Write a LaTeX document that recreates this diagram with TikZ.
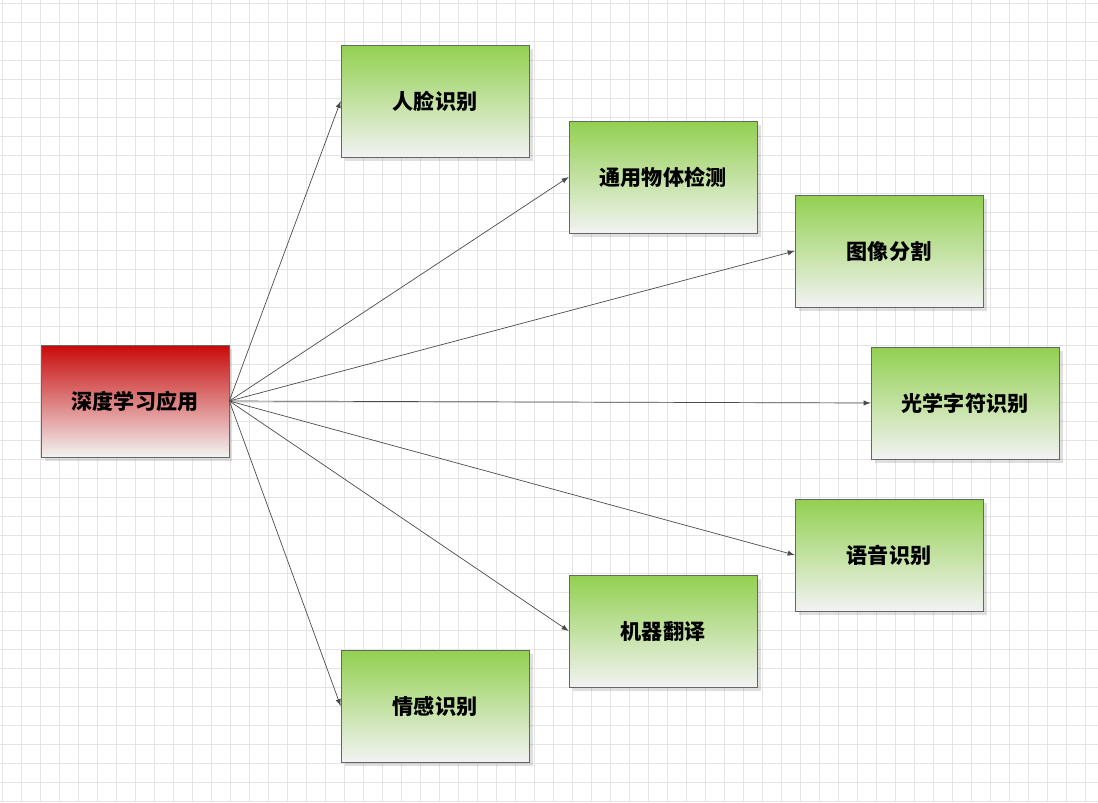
\documentclass[tikz,border=0pt]{standalone}
\usepackage{fontspec}
\setmainfont{Noto Sans CJK SC}
\usetikzlibrary{positioning,shadows}
\definecolor{appgreen}{RGB}{146,208,80}
\definecolor{appred}{RGB}{200,10,10}
\definecolor{gridgray}{RGB}{228,228,228}
\begin{document}
\begin{tikzpicture}[x=0.02cm,y=-0.02cm,font=\large\bfseries,
  appbox/.style={draw=gray!80!black,minimum width=3.76cm,minimum height=2.24cm,
    top color=appgreen,bottom color=gray!10,drop shadow={opacity=0.25,shadow xshift=2pt,shadow yshift=-2pt}},
  rootbox/.style={appbox,top color=appred,bottom color=gray!10},
  link/.style={draw=gray!60!black,-latex}]

  \fill[white] (0,0) rectangle (1098,802);
  \useasboundingbox (0,0) rectangle (1098,802);
  % grid
  \foreach \i in {0,...,58} {\draw[gridgray,line width=0.4pt] (2+19*\i,0) -- (2+19*\i,802);}
  \foreach \j in {0,...,42} {\draw[gridgray,line width=0.4pt] (0,3+19*\j) -- (1098,3+19*\j);}

  \node[rootbox] (root) at (135,401) {深度学习应用};

  \node[appbox] (face) at (435,101) {人脸识别};
  \node[appbox] (detect) at (663,177) {通用物体检测};
  \node[appbox] (seg) at (889,251) {图像分割};
  \node[appbox] (ocr) at (965,403) {光学字符识别};
  \node[appbox] (speech) at (889,555) {语音识别};
  \node[appbox] (trans) at (663,631) {机器翻译};
  \node[appbox] (emotion) at (435,706) {情感识别};

  % links from the root
  \foreach \n in {face,detect,seg,ocr,speech,trans,emotion}
    \draw[link] (root.east) -- (\n.west);
\end{tikzpicture}
\end{document}
